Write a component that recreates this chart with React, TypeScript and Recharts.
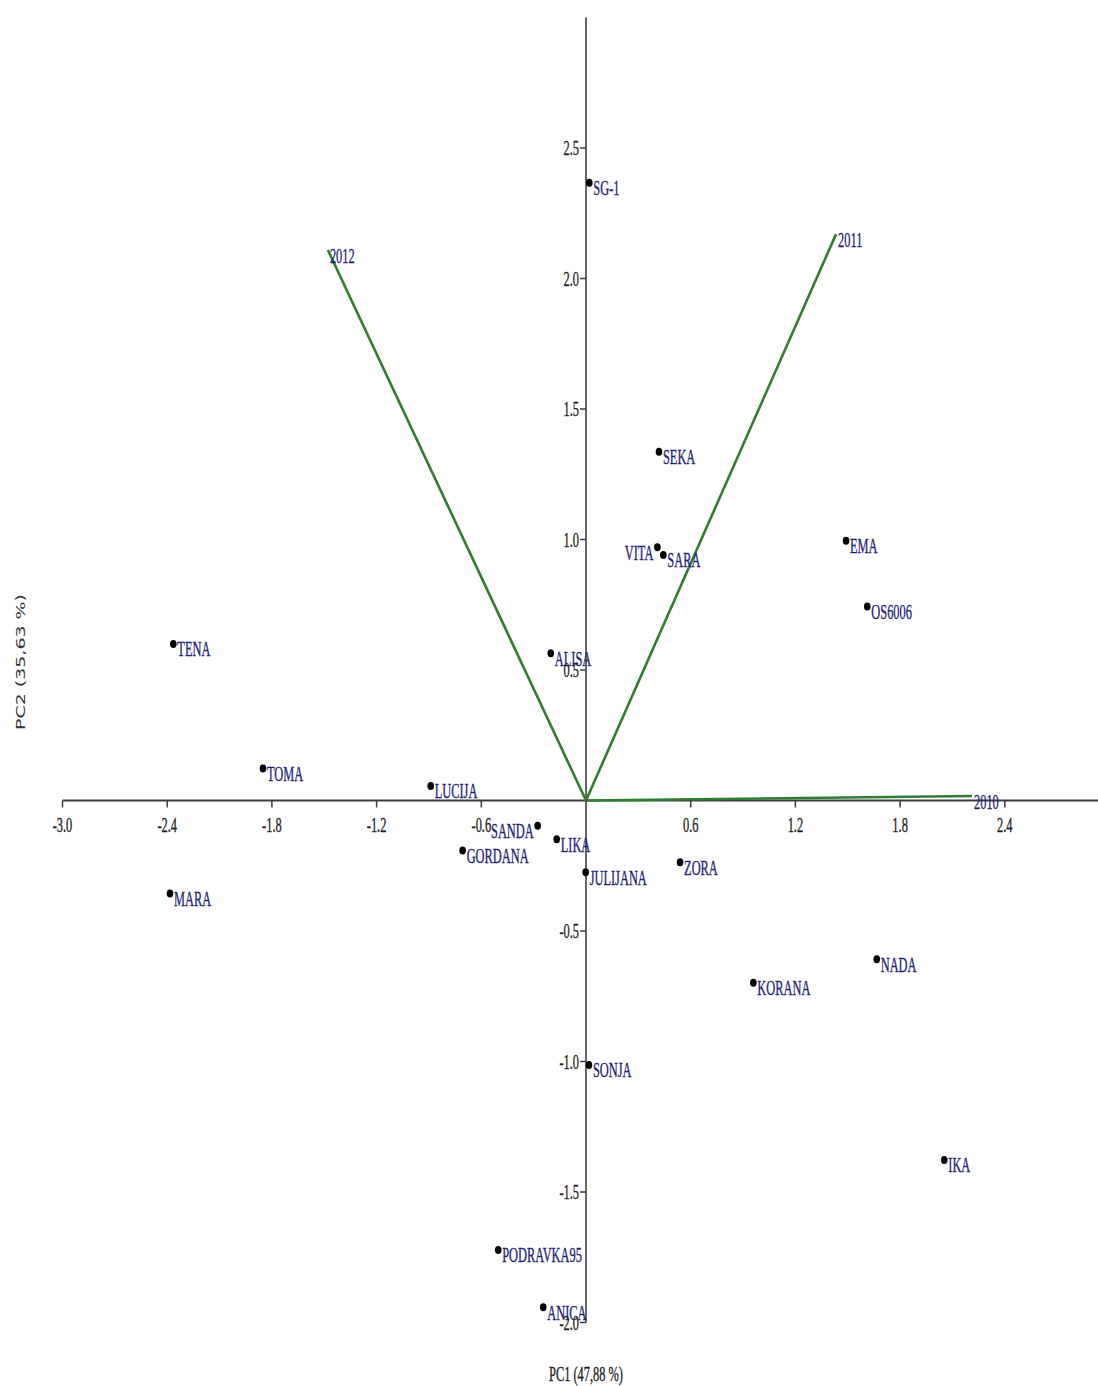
import React from 'react';
import { ScatterChart, Scatter, XAxis, YAxis, ReferenceLine } from 'recharts';

// ---- data ----
const GENOTYPES = ['SG-1', 'SEKA', 'VITA', 'SARA', 'EMA', 'OS6006', 'ALISA', 'TENA', 'TOMA', 'LUCIJA', 'SANDA', 'LIKA', 'GORDANA', 'JULIJANA', 'ZORA', 'MARA', 'NADA', 'KORANA', 'SONJA', 'IKA', 'PODRAVKA95', 'ANICA'];
const PC1_SCORES = [0.019, 0.418, 0.409, 0.443, 1.49, 1.612, -0.202, -2.365, -1.851, -0.89, -0.277, -0.168, -0.707, -0.002, 0.539, -2.384, 1.666, 0.959, 0.017, 2.053, -0.503, -0.245];
const PC2_SCORES = [2.367, 1.336, 0.97, 0.941, 0.995, 0.743, 0.564, 0.6, 0.123, 0.056, -0.097, -0.148, -0.192, -0.275, -0.237, -0.356, -0.608, -0.698, -1.013, -1.377, -1.722, -1.942];

const YEARS = ['2010', '2011', '2012'];
const LOADING_PC1 = [2.212, 1.433, -1.479];
const LOADING_PC2 = [0.017, 2.17, 2.109];

const X_TICKS = [-3.0, -2.4, -1.8, -1.2, -0.6, 0.6, 1.2, 1.8, 2.4];
const Y_TICKS = [2.5, 2.0, 1.5, 1.0, 0.5, -0.5, -1.0, -1.5, -2.0];
const X_DOMAIN = [-3, 2.934];
const Y_DOMAIN = [-2, 3];

const X_LABEL = 'PC1 (47,88 %)';
const Y_LABEL = 'PC2 (35,63 %)';

// labels drawn on the left side of their dot
const LEFT_LABELS = new Set(['VITA', 'SANDA']);

// ---- layout / style ----
const W = 1098;
const H = 1386;
const M = { top: 17.5, right: 0, bottom: 0, left: 0 };
const X_AXIS_H = 63.5;
const Y_AXIS_W = 62.5;
const PLOT_LEFT = M.left + Y_AXIS_W;
const PLOT_W = W - PLOT_LEFT - M.right;
const PLOT_H = H - M.top - M.bottom - X_AXIS_H;
const ZERO_Y = M.top + (PLOT_H * (Y_DOMAIN[1] - 0)) / (Y_DOMAIN[1] - Y_DOMAIN[0]);
const ZERO_X = PLOT_LEFT + (PLOT_W * (0 - X_DOMAIN[0])) / (X_DOMAIN[1] - X_DOMAIN[0]);

const SERIF = '"Liberation Serif", "Times New Roman", serif';
const SQUEEZE = 0.62;
const AXIS_COLOR = '#3c3c3c';
const LABEL_COLOR = '#1f1f78';
const VECTOR_COLOR = '#2f7d2f';

const pointData = GENOTYPES.map((name, i) => ({ name, x: PC1_SCORES[i], y: PC2_SCORES[i] }));
const vectorData = YEARS.map((year, i) => [
  { x: 0, y: 0, label: '' },
  { x: LOADING_PC1[i], y: LOADING_PC2[i], label: year },
]);

const fmt = (v: number) => v.toFixed(1);

const SqText = ({ x, y, anchor = 'start', children, fill = LABEL_COLOR, size = 20, family = SERIF }: any) => (
  <g transform={`translate(${x},${y}) scale(${SQUEEZE},1)`}>
    <text
      x={0}
      y={0}
      textAnchor={anchor}
      fontFamily={family}
      fontSize={size}
      fill={fill}
      stroke={fill}
      strokeWidth={0.35}
    >
      {children}
    </text>
  </g>
);

const XTick = (props: any) => {
  const { x, payload } = props;
  return (
    <g>
      <line x1={x} x2={x} y1={ZERO_Y} y2={ZERO_Y + 7} stroke={AXIS_COLOR} strokeWidth={1.5} />
      <SqText x={x} y={ZERO_Y + 31} anchor="middle" fill="#1e1e1e">
        {fmt(payload.value)}
      </SqText>
    </g>
  );
};

const YTick = (props: any) => {
  const { y, payload } = props;
  return (
    <g>
      <line x1={ZERO_X - 6} x2={ZERO_X} y1={y} y2={y} stroke={AXIS_COLOR} strokeWidth={1.5} />
      <SqText x={ZERO_X - 7} y={y + 7} anchor="end" fill="#1e1e1e">
        {fmt(payload.value)}
      </SqText>
    </g>
  );
};

const PointShape = (props: any) => {
  const { cx, cy, payload } = props;
  const left = LEFT_LABELS.has(payload.name);
  return (
    <g>
      <ellipse cx={cx} cy={cy} rx={3.3} ry={4} fill="#000" />
      <SqText x={left ? cx - 4 : cx + 4} y={cy + 12.5} anchor={left ? 'end' : 'start'}>
        {payload.name}
      </SqText>
    </g>
  );
};

const VectorEnd = (props: any) => {
  const { cx, cy, payload } = props;
  if (!payload.label) return <g />;
  return (
    <SqText x={cx + 2} y={cy + 13}>
      {payload.label}
    </SqText>
  );
};

const YLabel = () => (
  <g transform={`translate(25,662) scale(0.66,1) rotate(-90)`}>
    <text x={0} y={0} textAnchor="middle" fontFamily='"DejaVu Sans", Verdana, sans-serif' fontSize={19} fill="#333">
      {Y_LABEL}
    </text>
  </g>
);

const XLabel = () => <SqText x={586} y={1381} anchor="middle" fill="#1e1e1e">{X_LABEL}</SqText>;

export default function App() {
  return (
    <div style={{ position: 'absolute', left: 0, top: 0, width: W, height: H, background: '#fff' }}>
      <ScatterChart width={W} height={H} margin={M}>
        <XAxis
          type="number"
          dataKey="x"
          domain={X_DOMAIN}
          ticks={X_TICKS}
          interval={0}
          height={X_AXIS_H}
          axisLine={false}
          tickLine={false}
          tickSize={0}
          tickMargin={0}
          tick={XTick}
          allowDataOverflow
          label={{ content: XLabel }}
        />
        <YAxis
          type="number"
          dataKey="y"
          domain={Y_DOMAIN}
          ticks={Y_TICKS}
          interval={0}
          width={Y_AXIS_W}
          axisLine={false}
          tickLine={false}
          tickSize={0}
          tickMargin={0}
          tick={YTick}
          allowDataOverflow
          label={{ content: YLabel }}
        />
        <ReferenceLine y={0} stroke={AXIS_COLOR} strokeWidth={1.8} />
        <ReferenceLine x={0} stroke="#555" strokeWidth={1.8} />
        {vectorData.map((d, i) => (
          <Scatter
            key={YEARS[i]}
            data={d}
            isAnimationActive={false}
            line={{ stroke: VECTOR_COLOR, strokeWidth: 2.6 }}
            shape={VectorEnd}
            fill={VECTOR_COLOR}
          />
        ))}
        <Scatter data={pointData} isAnimationActive={false} shape={PointShape} fill="#000" />
      </ScatterChart>
    </div>
  );
}
